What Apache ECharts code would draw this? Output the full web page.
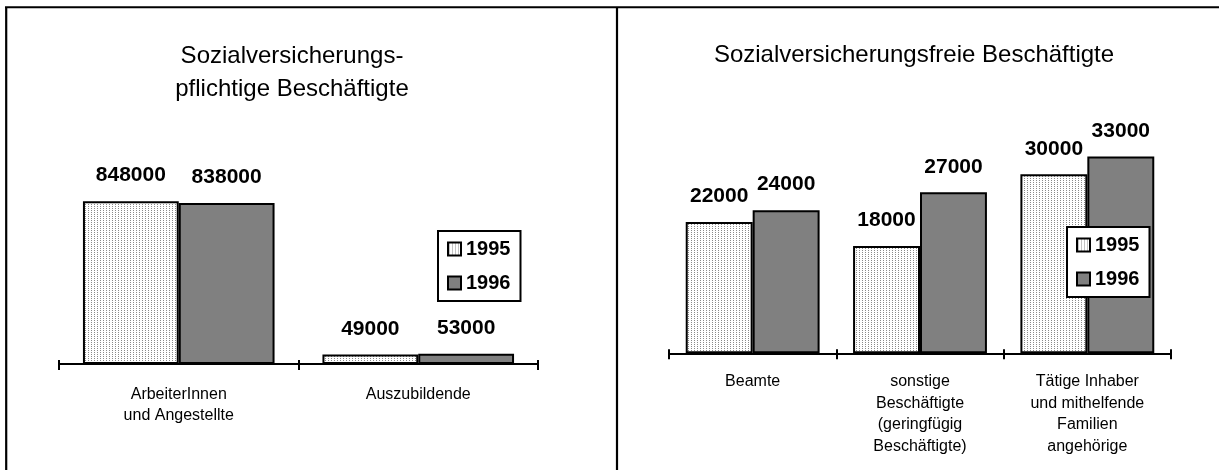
<!DOCTYPE html>
<html>
<head>
<meta charset="utf-8">
<script src="https://cdn.jsdelivr.net/npm/echarts@6/dist/echarts.min.js"></script>
<style>
  html, body { margin: 0; padding: 0; background: #fff; }
  #chart { width: 1219px; height: 470px; }
</style>
</head>
<body>
<div id="chart"></div>
<script>
// Years shown in both panels
const years = ['1995', '1996'];

// Left panel: employees subject to social insurance
const leftCategories = ['ArbeiterInnen\nund Angestellte', 'Auszubildende'];
const left1995 = [848000, 49000];
const left1996 = [838000, 53000];

// Right panel: employees exempt from social insurance
const rightCategories = [
  'Beamte',
  'sonstige\nBeschäftigte\n(geringfügig\nBeschäftigte)',
  'Tätige Inhaber\nund mithelfende\nFamilien\nangehörige'
];
const right1995 = [22000, 18000, 30000];
const right1996 = [24000, 27000, 33000];

const FONT = "'Liberation Sans', Arial, Helvetica, sans-serif";

// Fine stipple used for the 1995 bars
function stipple() {
  const c = document.createElement('canvas');
  c.width = 3; c.height = 2;
  const ctx = c.getContext('2d');
  ctx.fillStyle = '#ffffff';
  ctx.fillRect(0, 0, 3, 2);
  ctx.fillStyle = '#8a8a8a';
  ctx.fillRect(1, 0, 1, 1);
  return c;
}
const dotted = { image: stipple(), repeat: 'repeat' };
const barFill = [dotted, '#808080'];

function barSeries(name, data, idx, gridIdx) {
  return {
    type: 'bar',
    name: name,
    data: data,
    xAxisIndex: gridIdx * 2,
    yAxisIndex: gridIdx,
    barGap: '0%',
    barCategoryGap: '20%',
    itemStyle: { color: barFill[idx], borderColor: '#000', borderWidth: 2 },
    label: {
      show: true,
      position: 'top',
      distance: 15,
      color: '#000',
      fontFamily: FONT,
      fontWeight: 'bold',
      fontSize: 21,
      formatter: p => String(p.value)
    }
  };
}

function catAxes(data, gridIdx, margin) {
  const base = {
    type: 'category',
    data: data,
    gridIndex: gridIdx,
    position: 'bottom'
  };
  return [
    Object.assign({}, base, {
      axisLine: { show: true, lineStyle: { color: '#000', width: 2 } },
      axisTick: { show: true, length: 6, lineStyle: { color: '#000', width: 2 } },
      axisLabel: {
        interval: 0, margin: margin, color: '#000',
        fontFamily: FONT, fontSize: 16, lineHeight: 21.5
      }
    }),
    // inner half of the crossing ticks
    Object.assign({}, base, {
      axisLine: { show: false },
      axisTick: { show: true, inside: true, length: 4, lineStyle: { color: '#000', width: 2 } },
      axisLabel: { show: false }
    })
  ];
}

function legendBox(left, top) {
  return {
    data: years,
    orient: 'vertical',
    left: left,
    top: top,
    icon: 'rect',
    itemWidth: 13,
    itemHeight: 13,
    itemGap: 14,
    padding: [8, 10, 8, 9],
    backgroundColor: '#fff',
    borderColor: '#000',
    borderWidth: 2,
    selectedMode: false,
    textStyle: { color: '#000', fontFamily: FONT, fontWeight: 'bold', fontSize: 20 }
  };
}

const chart = echarts.init(document.getElementById('chart'), null, { renderer: 'canvas' });

chart.setOption({
  animation: false,
  backgroundColor: '#fff',
  title: [
    {
      text: 'Sozialversicherungs-\npflichtige Beschäftigte',
      left: 292, top: 40, textAlign: 'center', padding: 0,
      textStyle: { color: '#000', fontFamily: FONT, fontWeight: 'normal', fontSize: 24, lineHeight: 33 }
    },
    {
      text: 'Sozialversicherungsfreie Beschäftigte',
      left: 914, top: 39, textAlign: 'center', padding: 0,
      textStyle: { color: '#000', fontFamily: FONT, fontWeight: 'normal', fontSize: 24, lineHeight: 33 }
    }
  ],
  legend: [legendBox(438, 231), legendBox(1067, 227)],
  grid: [
    { left: 59, width: 479, top: 172, height: 192 },
    { left: 669, width: 502, top: 114.7, height: 238.6 }
  ],
  xAxis: catAxes(leftCategories, 0, 19.5).concat(catAxes(rightCategories, 1, 17.6)),
  yAxis: [
    { type: 'value', gridIndex: 0, min: 0, max: 1000000, show: false, splitLine: { show: false } },
    { type: 'value', gridIndex: 1, min: 0, max: 40000, show: false, splitLine: { show: false } }
  ],
  series: [
    barSeries(years[0], left1995, 0, 0),
    barSeries(years[1], left1996, 1, 0),
    barSeries(years[0], right1995, 0, 1),
    barSeries(years[1], right1996, 1, 1)
  ],
  graphic: [
    { type: 'line', shape: { x1: 5, y1: 7.3, x2: 1219, y2: 7.3 }, style: { stroke: '#000', lineWidth: 2 } },
    { type: 'line', shape: { x1: 6.2, y1: 7, x2: 6.2, y2: 470 }, style: { stroke: '#000', lineWidth: 2.2 } },
    { type: 'line', shape: { x1: 617, y1: 7, x2: 617, y2: 470 }, style: { stroke: '#000', lineWidth: 2.2 } }
  ]
});
</script>
</body>
</html>
